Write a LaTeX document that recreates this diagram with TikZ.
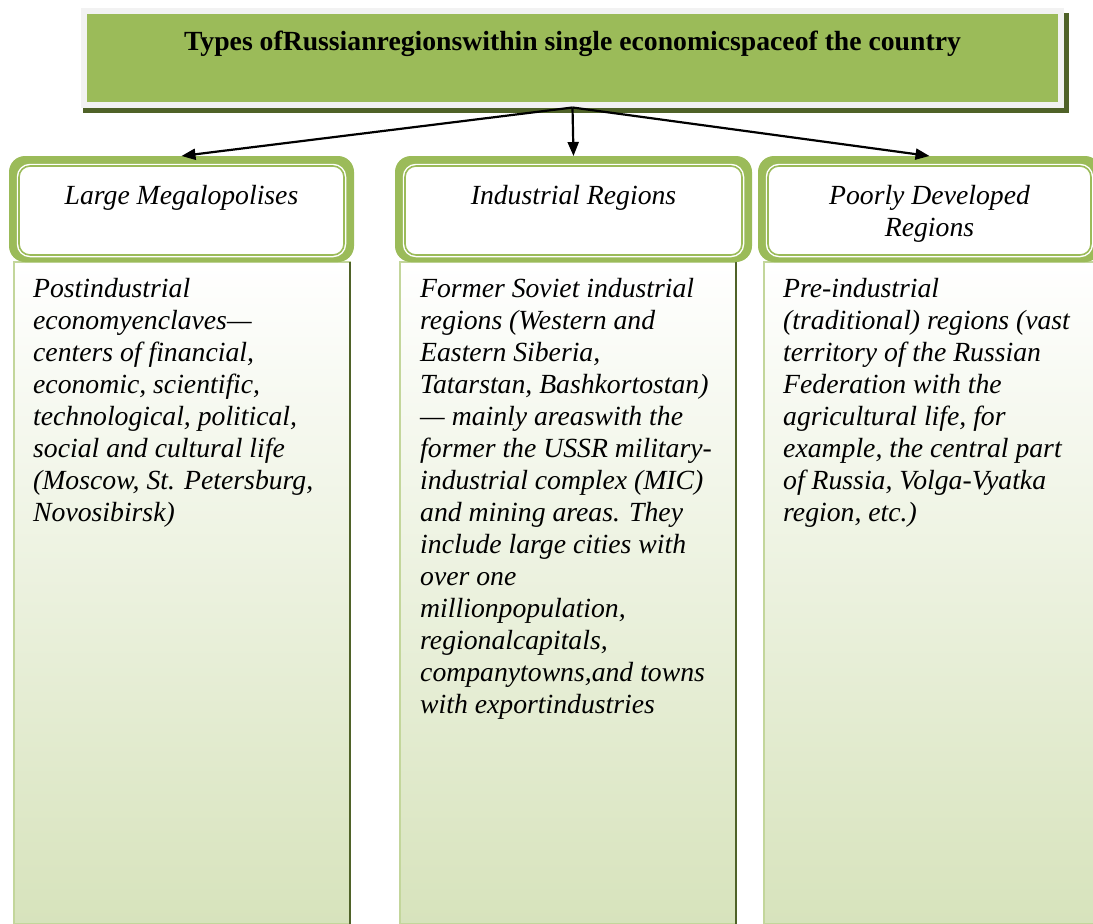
\documentclass[tikz,border=0pt]{standalone}
\usepackage{fontspec}
\setmainfont{Liberation Serif}
\usetikzlibrary{arrows.meta,positioning,calc}
\definecolor{oliveg}{RGB}{155,187,89}
\definecolor{darkolive}{RGB}{79,98,40}
\definecolor{framegray}{RGB}{242,242,242}
\definecolor{paleg}{RGB}{195,214,155}
\definecolor{washg}{RGB}{215,227,188}
\tikzset{
  titlebox/.style={rectangle, fill=oliveg, draw=framegray, line width=6pt,
    minimum width=977pt, minimum height=94pt, inner sep=0pt,
    font=\fontsize{27.7}{32}\selectfont\bfseries, text height=20pt, text depth=35pt},
  hdrbox/.style={rectangle, rounded corners=16pt, fill=oliveg, minimum height=106pt,
    inner sep=0pt, outer sep=0pt},
  hdrin/.style={rectangle, rounded corners=11pt, fill=white, draw=oliveg, line width=1.6pt,
    preaction={draw=white, line width=4.5pt}, minimum height=89pt, inner sep=0pt},
  contbox/.style={rectangle, top color=white, bottom color=washg, draw=paleg, line width=2pt,
    minimum width=336pt, minimum height=662pt, inner sep=0pt, outer sep=0pt},
  hdrtext/.style={font=\fontsize{27.7}{32}\selectfont\itshape, inner sep=0pt, anchor=base},
  bodytext/.style={font=\fontsize{27.7}{32}\selectfont\itshape, inner sep=0pt, anchor=base west},
  link/.style={-{Triangle[length=14pt,width=11pt]}, line width=2.2pt},
}

\begin{document}
\begin{tikzpicture}[x=1pt,y=-1pt]
\useasboundingbox (0,0) rectangle (1093,924);
\clip (0,0) rectangle (1093,924);
% title
\fill[darkolive] (83,13) rectangle (1069,113);
\draw (572.5,57.5) node (title) [titlebox] {Types ofRussianregionswithin single economicspaceof the country};
% columns
\draw (182,593) node (contA) [contbox] {};
\draw (568,593) node (contB) [contbox] {};
\draw (932,593) node (contC) [contbox] {};
\draw[darkolive, line width=2pt] (contA.north east) -- (contA.south east);
\draw[darkolive, line width=2pt] (contB.north east) -- (contB.south east);
% headers
\draw (181.5,209) node (hdrA) [hdrbox, minimum width=345pt] {};
\draw (573.5,209) node (hdrB) [hdrbox, minimum width=357pt] {};
\draw (929.5,209) node (hdrC) [hdrbox, minimum width=343pt] {};
\draw (181.5,210.5) node (inA) [hdrin, minimum width=325pt] {};
\draw (573.5,210.5) node (inB) [hdrin, minimum width=337pt] {};
\draw (929.5,210.5) node (inC) [hdrin, minimum width=323pt] {};
\node (labA) [hdrtext] at ([yshift=-48.5pt]hdrA.north) {Large Megalopolises};
\node (labB) [hdrtext] at ([yshift=-48.5pt]hdrB.north) {Industrial Regions};
\node (labC) [hdrtext] at ([yshift=-48.5pt]hdrC.north) {\parbox[t]{320pt}{\centering Poorly Developed\\Regions}};
% texts
\node (txtA) [bodytext] at ([shift={(19,35)}]contA.north west) {\parbox[t]{320pt}{\raggedright
Postindustrial\\
economyenclaves—\\
centers of financial,\\
economic, scientific,\\
technological, political,\\
social and cultural life\\
(Moscow, St. Petersburg,\\
Novosibirsk)}};
\node (txtB) [bodytext] at ([shift={(20,35)}]contB.north west) {\parbox[t]{320pt}{\raggedright
Former Soviet industrial\\
regions (Western and\\
Eastern Siberia,\\
Tatarstan, Bashkortostan)\\
— mainly areaswith the\\
former the USSR military-\\
industrial complex (MIC)\\
and mining areas. They\\
include large cities with\\
over one\\
millionpopulation,\\
regionalcapitals,\\
companytowns,and towns\\
with exportindustries}};
\node (txtC) [bodytext] at ([shift={(19,35)}]contC.north west) {\parbox[t]{320pt}{\raggedright
Pre-industrial\\
(traditional) regions (vast\\
territory of the Russian\\
Federation with the\\
agricultural life, for\\
example, the central part\\
of Russia, Volga-Vyatka\\
region, etc.)}};
% arrows
\draw[link] (title.south) -- (hdrA.north);
\draw[link] (title.south) -- (hdrB.north);
\draw[link] (title.south) -- (hdrC.north);
\end{tikzpicture}
\end{document}
